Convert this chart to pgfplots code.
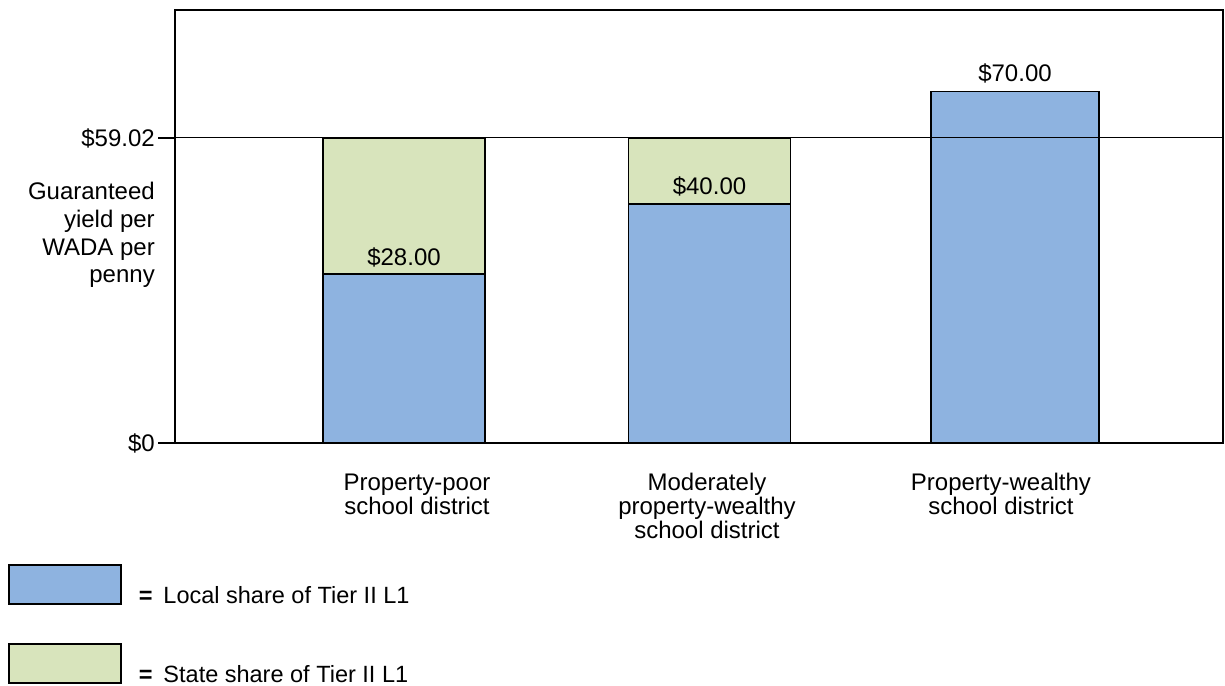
\documentclass[border=0pt]{standalone}
\usepackage{pgfplots}
\pgfplotsset{compat=1.18}
\usepackage{fontspec}
\setmainfont{Liberation Sans}
\definecolor{localblue}{HTML}{8EB3E0}
\definecolor{stategreen}{HTML}{D8E4BC}
\begin{document}
\begin{tikzpicture}[font=\fontsize{24}{27.7}\selectfont]
\useasboundingbox (0pt,0pt) rectangle (1225pt,685pt);
\begin{axis}[
  at={(175pt,242pt)}, anchor=south west,
  scale only axis, width=1048pt, height=433pt,
  xmin=-0.7496, xmax=2.6809, ymin=0, ymax=83.79,
  ybar, bar shift=0pt, bar width=162pt,
  legend image code/.code={\draw[#1] (0pt,-8.5pt) rectangle (112pt,30.5pt);},
  axis on top, clip=false,
  axis line style={line width=1.2pt},
  xtick={0.0426,0.9918,1.954},
  xticklabels={{Property-poor\\school district},{Moderately\\property-wealthy\\school district},{Property-wealthy\\school district}},
  xticklabel style={align=center, font=\fontsize{24}{24}\selectfont, yshift=-10pt},
  xtick style={draw=none},
  ytick={0,59.02}, yticklabels={\$0,\$59.02},
  ytick pos=left, tick align=outside, major tick length=17pt,
  ytick style={line width=1.2pt, black},
  yticklabel style={inner sep=0pt, xshift=-3pt, font=\fontsize{24}{27.7}\selectfont},
  ymajorgrids, grid style={line width=1pt, black},
  ylabel={Guaranteed\\yield per\\WADA per\\penny},
  ylabel style={rotate=-90, align=right, anchor=east, inner sep=0pt, at={(axis description cs:-0.0191,0.4799)}, font=\fontsize{24}{27.7}\selectfont},
  reverse legend,
  legend cell align=left,
  legend style={at={(axis description cs:-0.1594,-0.2794)}, anchor=north west, draw=none, fill=none, inner sep=0pt, row sep=38.5pt, column sep=17pt, nodes={inner sep=0pt}},
]
% state share (top of stack reaches local + state)
\addplot[fill=stategreen, draw=black, line width=1.6pt]
  table[x=x, y expr=\thisrow{local}+\thisrow{state}] {
x local state
0 32.70 26.32
1 46.25 12.77
};
\addlegendentry{{\bfseries\fontsize{23.5}{24}\selectfont =}\hspace{11pt}{\fontsize{23.5}{24}\selectfont State share of Tier II L1}}
% local share
\addplot[fill=localblue, draw=black, line width=1.6pt,
  nodes near coords, point meta=explicit symbolic,
  every node near coord/.style={anchor=base, yshift=9pt, inner sep=0pt, black, font=\fontsize{24}{27.7}\selectfont}]
  coordinates {(0,32.70) [\$28.00] (1,46.25) [\$40.00]};
\addlegendentry{{\bfseries\fontsize{23.5}{24}\selectfont =}\hspace{11pt}{\fontsize{23.5}{24}\selectfont Local share of Tier II L1}}
\addplot[fill=localblue, draw=black, line width=1.6pt, bar width=168pt, forget plot,
  nodes near coords, point meta=explicit symbolic,
  every node near coord/.style={anchor=base, yshift=10pt, inner sep=0pt, black, font=\fontsize{24}{27.7}\selectfont}]
  coordinates {(2,68.0) [\$70.00]};
\end{axis}
\end{tikzpicture}
\end{document}
